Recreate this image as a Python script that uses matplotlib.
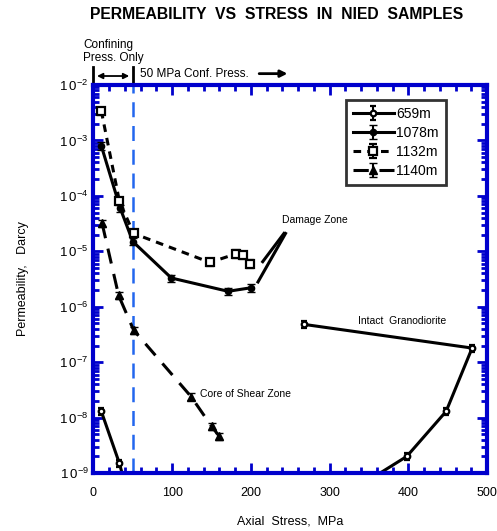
import numpy as np
import matplotlib.pyplot as plt

plt.rcParams['font.family'] = ['Liberation Sans', 'DejaVu Sans']
plt.rcParams['mathtext.fontset'] = 'custom'
plt.rcParams['mathtext.rm'] = 'Liberation Sans'

# 659m (low stress branch, continues below the axis)
x_659a = [10, 33, 42]
y_659a = [1.3e-8, 1.5e-9, 5e-10]
# 659m intact granodiorite branch
x_659b = [330, 398, 448, 481, 268]
y_659b = [5e-10, 2.0e-9, 1.3e-8, 1.8e-7, 4.8e-7]

x_1078 = [10, 34, 50, 99, 171, 200]
y_1078 = [8e-4, 6e-5, 1.5e-5, 3.3e-6, 1.9e-6, 2.2e-6]

x_1132 = [10, 33, 51, 148, 181, 190, 199]
y_1132 = [3.4e-3, 8e-5, 2.1e-5, 6.3e-6, 9e-6, 8.5e-6, 6e-6]

x_1140 = [11, 32, 51, 124, 150, 160]
y_1140 = [3.2e-5, 1.6e-6, 3.8e-7, 2.4e-8, 7e-9, 4.6e-9]

legend_labels = ['659m', '1078m', '1132m', '1140m']

fig = plt.figure(figsize=(4.97, 5.31), dpi=100)
ax = fig.add_axes([0.188, 0.109, 0.792, 0.731])
blue = '#0000cc'

err = 0.15
ax.errorbar(x_659a, y_659a, yerr=[np.array(y_659a) * err, np.array(y_659a) * err],
            color='black', lw=2.2, marker='o', ms=4, mfc='white', mew=1.6,
            capsize=2.5, elinewidth=1.5, label=legend_labels[0])
ax.errorbar(x_659b, y_659b, yerr=[np.array(y_659b) * err, np.array(y_659b) * err],
            color='black', lw=2.2, marker='o', ms=4, mfc='white', mew=1.6,
            capsize=2.5, elinewidth=1.5)
ax.errorbar(x_1078, y_1078, yerr=[np.array(y_1078) * err, np.array(y_1078) * err],
            color='black', lw=2.2, marker='o', ms=4.5, capsize=3, elinewidth=1.5,
            label=legend_labels[1])
ax.errorbar(x_1132, y_1132, yerr=[np.array(y_1132) * err, np.array(y_1132) * err],
            color='black', lw=2.2, ls=(0, (2.5, 2)), marker='s', ms=5.5, mfc='white',
            mew=1.6, capsize=3, elinewidth=1.5, label=legend_labels[2])
ax.errorbar(x_1140, y_1140, yerr=[np.array(y_1140) * err, np.array(y_1140) * err],
            color='black', lw=2.2, ls=(0, (5, 3.5)), marker='^', ms=6, capsize=3,
            elinewidth=1.5, label=legend_labels[3])

# damage zone pointer lines
ax.plot([215, 242], [6.5e-6, 2.1e-5], color='black', lw=2.2)
ax.plot([209, 244], [2.8e-6, 2.1e-5], color='black', lw=2.2)

ax.axvline(50, color='#2266ee', lw=1.8, ls=(0, (6, 3.5)))

ax.set_xlim(0, 500)
ax.set_yscale('log')
ax.set_ylim(1e-9, 1e-2)
ax.set_xticks(np.arange(0, 501, 100))
ax.set_xticks(np.arange(0, 501, 20), minor=True)
ax.set_yticks([10.0 ** k for k in range(-9, -1)])
ax.set_yticklabels([r'$\mathregular{1\,0^{%d}}$' % k for k in range(-9, -1)])
ax.tick_params(which='both', direction='in', top=True, right=True, color=blue,
               width=2, labelsize=9.5)
ax.tick_params(which='major', length=7)
ax.tick_params(which='minor', length=4)
ax.tick_params(axis='x', pad=10, labelsize=9)

for s in ax.spines.values():
    s.set_color(blue)
    s.set_linewidth(3)

ax.text(239, 3.6e-5, 'Damage Zone', fontsize=7.5, va='center')
ax.text(336, 5.5e-7, 'Intact  Granodiorite', fontsize=7.5, va='center')
ax.text(135, 2.7e-8, 'Core of Shear Zone', fontsize=7.5, va='center')

# header annotations above the axes
ax.plot([0, 0], [1e-2, 2.1e-2], color='black', lw=2, clip_on=False)
ax.plot([50, 50], [1e-2, 2.1e-2], color='black', lw=2, clip_on=False)
ax.annotate('', xy=(1, 1.45e-2), xytext=(49, 1.45e-2),
            arrowprops=dict(arrowstyle='<|-|>', color='black', lw=1.3,
                            mutation_scale=8), annotation_clip=False)
ax.text(-13, 2.4e-2, 'Confining\nPress. Only', fontsize=8.5, va='bottom',
        linespacing=1.05)
ax.text(59, 1.6e-2, '50 MPa Conf. Press.', fontsize=8.5, va='center')
ax.annotate('', xy=(250, 1.6e-2), xytext=(207, 1.6e-2),
            arrowprops=dict(arrowstyle='-|>', color='black', lw=2,
                            mutation_scale=10), annotation_clip=False)

ax.set_xlabel('Axial  Stress,  MPa', fontsize=9, labelpad=12)
ax.set_ylabel('Permeability,   Darcy', fontsize=9, labelpad=22)
fig.text(0.556, 0.972, 'PERMEABILITY  VS  STRESS  IN  NIED  SAMPLES',
         fontsize=11.3, fontweight='bold', ha='center', va='center')

leg = ax.legend(loc='upper right', bbox_to_anchor=(0.902, 0.968), fontsize=10,
                frameon=True, fancybox=False, edgecolor='black',
                handlelength=3, handletextpad=0.15, borderpad=0.5,
                labelspacing=0.35, borderaxespad=0.2)
leg.get_frame().set_linewidth(2)

fig.savefig('out.png', dpi=100)
